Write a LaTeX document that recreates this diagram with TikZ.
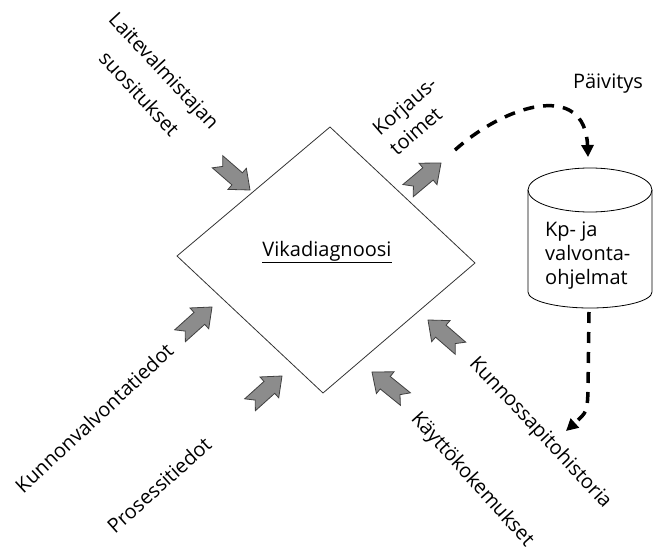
\documentclass[tikz,border=0pt]{standalone}
\usepackage{fontspec}
\setmainfont{Open Sans}
\usetikzlibrary{arrows.meta}
\tikzset{
  blockarrow/.pic={
    \filldraw[fill=black!45,draw=black!75,line width=0.8pt,line join=miter]
      (0,0) -- (-17,-14) -- (-17,-8) -- (-43,-8) -- (-36,0) -- (-43,8) -- (-17,8) -- (-17,14) -- cycle;
  }
}
\begin{document}
\begin{tikzpicture}[x=1pt,y=-1pt,font=\fontsize{20}{26}\selectfont,line join=round,line cap=round,
  flow/.style={line width=3.5pt,dash pattern=on 11pt off 9pt,line cap=butt,-{Triangle[length=12pt,width=12pt]}},
  lbl/.style={inner sep=0pt,align=center}]
\useasboundingbox (0,0) rectangle (653,553);
\coordinate (T) at (330,127);
\coordinate (R) at (475,263);
\coordinate (B) at (323,393);
\coordinate (L) at (177,256);
% tips of the grey arrows
\coordinate (P1) at (250,190);
\coordinate (P2) at (441,163);
\coordinate (P3) at (428,320);
\coordinate (P4) at (372,372);
\coordinate (P5) at (212,307);
\coordinate (P6) at (282,376);
% dashed flows
\coordinate (U1) at (455,150);
\coordinate (U2) at (588,157);
\coordinate (V1) at (589,312);
\coordinate (V2) at (566,431);

\draw[black!80,line width=0.8pt] (T) -- (R) -- (B) -- (L) -- cycle;
\path (327,252) node[lbl] (diag) {\underline{Vikadiagnoosi}};

% database
\coordinate (D) at (590,190);
\draw[line width=0.8pt] (D) ellipse [x radius=62, y radius=22];
\draw[line width=0.8pt] (528,190) -- (528,292) arc[start angle=180,end angle=0,x radius=62,y radius=16] -- (652,190);
\path (545,256) node[anchor=west,inner sep=0pt,align=left,font=\fontsize{20}{24}\selectfont] (db) {Kp- ja\\valvonta-\\ohjelmat};

\foreach \p/\a in {P1/-41,P2/40,P3/139,P4/141,P5/42,P6/42}
  \pic[rotate=\a] at (\p) {blockarrow};

\draw[flow] (U1) .. controls (505,105) and (585,80) .. (U2);
\draw[flow] (V1) -- (588,392) .. controls (587,412) .. (V2);

\path (152,82) node[lbl,rotate=-47] (maker) {Laitevalmistajan\\[8pt]suositukset};
\path (413,116) node[lbl,rotate=41,align=left] (repair) {Korjaus-\\toimet};
\path (94,418) node[lbl,rotate=43] (cond) {Kunnonvalvontatiedot};
\path (159,485) node[lbl,rotate=42] (proc) {Prosessitiedot};
\path (540,433) node[lbl,rotate=-47] (hist) {Kunnossapitohistoria};
\path (472,480) node[lbl,rotate=-48] (exper) {Käyttökokemukset};
\path (608,84) node[lbl] (upd) {Päivitys};
\end{tikzpicture}
\end{document}
